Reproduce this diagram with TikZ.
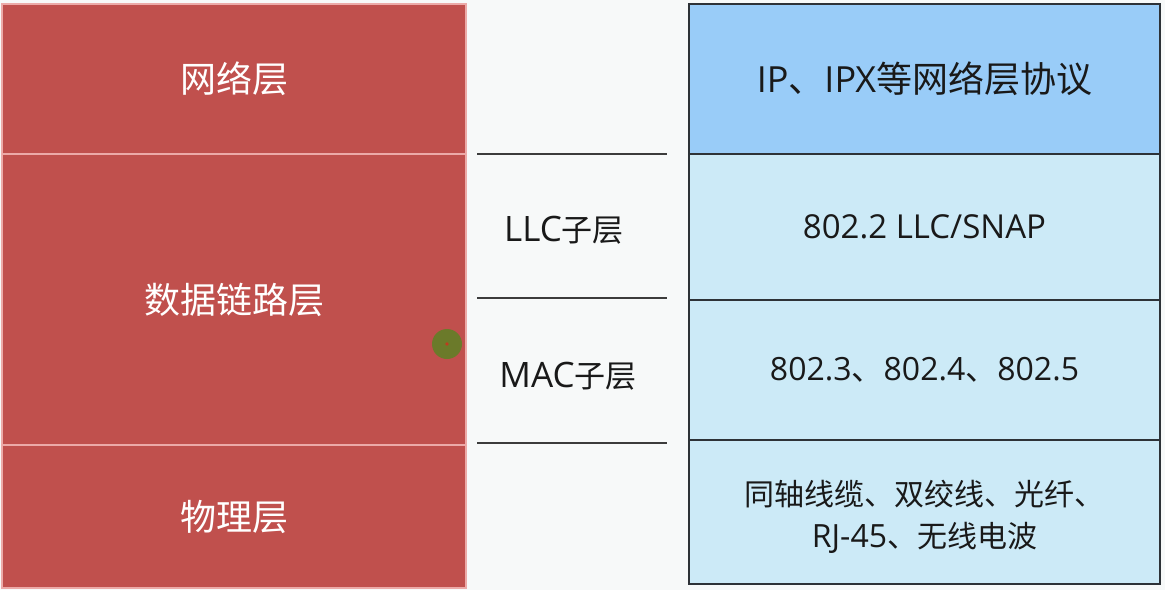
\documentclass[tikz,border=0pt]{standalone}
\usepackage{fontspec}
\setmainfont{Noto Sans CJK SC}
\newfontfamily\lat{Open Sans}
\definecolor{bgc}{RGB}{247,249,249}
\definecolor{redfill}{RGB}{192,80,77}
\definecolor{redline}{RGB}{236,170,168}
\definecolor{rtline}{RGB}{45,50,55}
\definecolor{txt}{RGB}{25,25,25}
\definecolor{midc}{RGB}{60,60,60}
\definecolor{bluetop}{RGB}{153,204,248}
\definecolor{bluelt}{RGB}{204,234,247}
\definecolor{dotgreen}{RGB}{107,122,42}
\definecolor{dotred}{RGB}{190,60,30}
\newcommand{\latbig}[1]{{\lat\fontsize{35}{38}\selectfont #1}}
\begin{document}
\begin{tikzpicture}[x=1pt,y=-1pt,
  redbox/.style={draw=redline, line width=1.2pt, fill=redfill, text=white, inner sep=0pt, minimum width=464pt},
  rtbox/.style={draw=rtline, line width=1.5pt, inner sep=0pt, minimum width=471pt, text=txt, align=center},
  midline/.style={draw=midc, line width=1.6pt},
  bigtxt/.style={font=\fontsize{36}{42}\selectfont},
  medtxt/.style={font=\fontsize{33}{38}\selectfont},
  lbl/.style={text=txt, inner sep=0pt}
]
\useasboundingbox (0,0) rectangle (1165,590);
\fill[bgc] (0,0) rectangle (1165,590);
% left red column
\node[redbox, bigtxt, minimum height=150pt] (net) at (234,79) {网络层};
\node[redbox, bigtxt, minimum height=291pt] (dl) at (234,299.5) {数据链路层};
\node[redbox, bigtxt, minimum height=143pt] (phy) at (234,516.5) {物理层};
% middle separator lines
\coordinate (m1a) at (477,154); \coordinate (m1b) at (667,154);
\coordinate (m2a) at (477,298); \coordinate (m2b) at (667,298);
\coordinate (m3a) at (477,443); \coordinate (m3b) at (667,443);
\draw[midline] (m1a) -- (m1b);
\draw[midline] (m2a) -- (m2b);
\draw[midline] (m3a) -- (m3b);
\node[lbl, font=\fontsize{31}{36}\selectfont] (llc) at (564,230) {\latbig{LLC}子层};
\node[lbl, font=\fontsize{31}{36}\selectfont] (mac) at (568,376) {\latbig{MAC}子层};
% right table
\node[rtbox, font=\fontsize{36}{42}\selectfont, fill=bluetop, minimum height=150pt] (ip) at (924.5,79) {{\lat IP}、{\lat IPX}等网络层协议};
\node[rtbox, medtxt, fill=bluelt, minimum height=146pt] (snap) at (924.5,227) {\lat 802.2 LLC/SNAP};
\node[rtbox, font=\fontsize{32}{38}\selectfont, fill=bluelt, minimum height=140pt] (mac8) at (924.5,370) {{\lat 802.3}、{\lat 802.4}、{\lat 802.5}};
\node[rtbox, fill=bluelt, minimum height=144pt] (media) at (924.5,512) {};
\node[lbl, align=center, font=\fontsize{30}{42}\selectfont] (mediatxt) at ([yshift=-5pt]media.center) {同轴线缆、双绞线、光纤、\\{\lat\fontsize{32}{42}\selectfont RJ-45}、无线电波};
% pointer dot
\fill[dotgreen] (447,344) circle (15);
\fill[dotred] (447,344) circle (1.8);
\end{tikzpicture}
\end{document}
